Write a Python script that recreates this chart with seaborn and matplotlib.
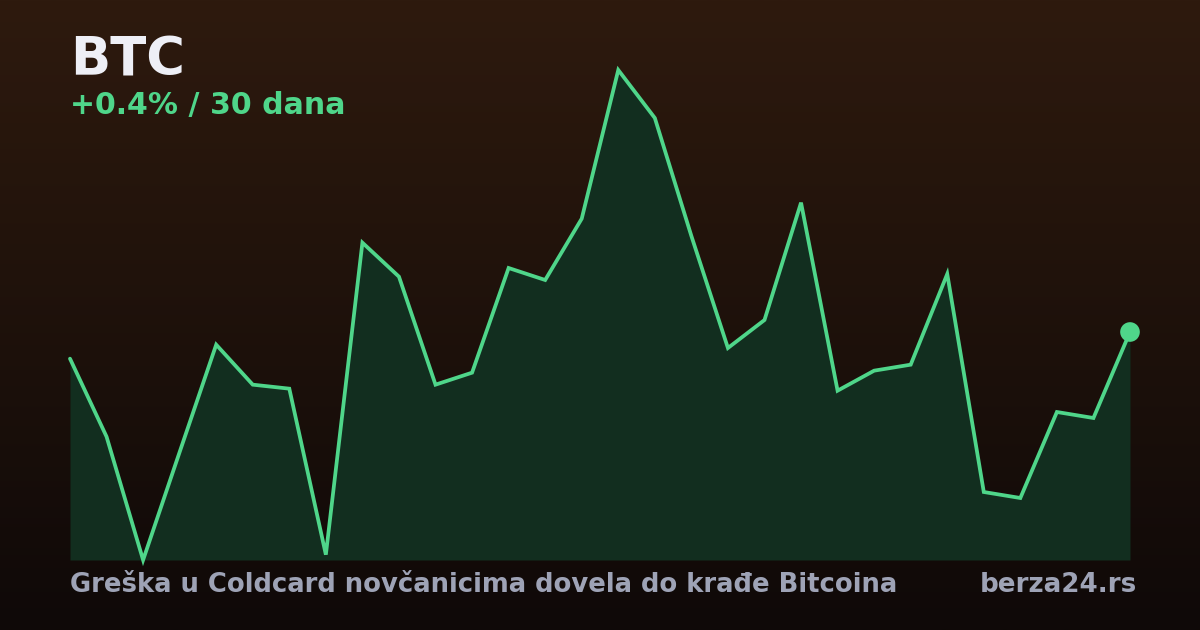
import numpy as np
import pandas as pd
import matplotlib
matplotlib.use('Agg')
import matplotlib.pyplot as plt
from matplotlib.colors import LinearSegmentedColormap
import seaborn as sns

# BTC closing prices, last 30 days
days = list(range(1, 31))
prices = [103020, 101850, 100000, 101620, 103230, 102630, 102570, 100080, 104760, 104250,
          102630, 102810, 104380, 104200, 105120, 107350, 106630, 104860, 103180, 103600,
          105360, 102540, 102840, 102930, 104290, 101020, 100930, 102220, 102130, 103420]
ticker = 'BTC'
subtitle = '+0.4% / 30 dana'
headline = 'Greška u Coldcard novčanicima dovela do krađe Bitcoina'
source = 'berza24.rs'

line_color = '#4fd68a'
fill_color = '#122e1f'

df = pd.DataFrame({'day': days, 'price': prices})

sns.set_theme(style='white')
plt.rcParams['font.family'] = ['DejaVu Sans']

fig = plt.figure(figsize=(12, 6.3), dpi=100)

# background gradient
bg = fig.add_axes([0, 0, 1, 1], zorder=0)
cmap = LinearSegmentedColormap.from_list('bg', ['#2e1a0e', '#0f0908'])
bg.imshow(np.linspace(0, 1, 256).reshape(-1, 1), aspect='auto', cmap=cmap,
          extent=[0, 1, 0, 1])
bg.set_axis_off()

ax = fig.add_axes([70 / 1200, 70 / 630, 1060 / 1200, 490 / 630], zorder=1)
ax.patch.set_alpha(0)
ax.fill_between(df['day'], df['price'], min(prices), color=fill_color, lw=0)
sns.lineplot(data=df, x='day', y='price', ax=ax, color=line_color, lw=2.7,
             clip_on=False, solid_joinstyle='miter')
ax.scatter([days[-1]], [prices[-1]], s=200, color=line_color, zorder=5, clip_on=False,
           edgecolors='none')
ax.set_xlim(days[0], days[-1])
ax.set_ylim(min(prices), max(prices))
ax.set_axis_off()

fig.text(70 / 1200, 1 - 75 / 630, ticker, fontsize=38, fontweight='bold',
         color='#eeeff6', va='baseline')
fig.text(70 / 1200, 1 - 114 / 630, subtitle, fontsize=21.6, fontweight='bold',
         color=line_color, va='baseline')
fig.text(70 / 1200, 1 - 592 / 630, headline, fontsize=18.6, fontweight='bold',
         color='#9ea3b6', va='baseline')
fig.text(1137 / 1200, 1 - 592 / 630, source, fontsize=18.8, fontweight='bold',
         color='#9ea3b6', va='baseline', ha='right')

fig.savefig('out.png', dpi=100)
